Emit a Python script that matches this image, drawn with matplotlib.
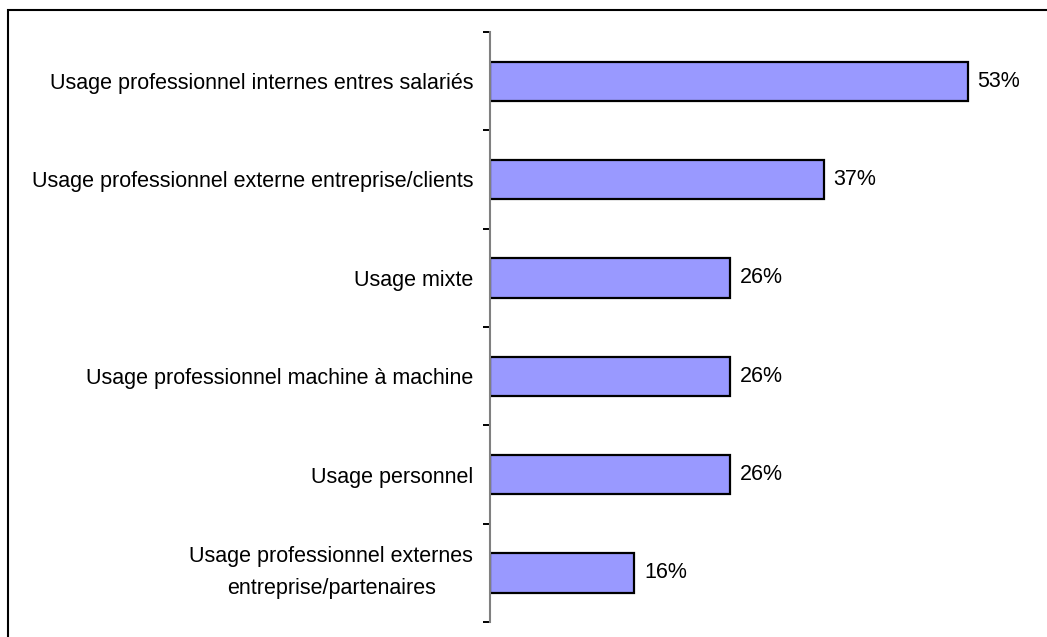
"""
Usage bar chart (horizontal), recreated with matplotlib
"""

import matplotlib.pyplot as plt
from matplotlib.patches import Rectangle

plt.rcParams['font.family'] = ['Liberation Sans', 'DejaVu Sans']

# Data (top to bottom)
categories = [
    "Usage professionnel internes entres salariés",
    "Usage professionnel externe entreprise/clients",
    "Usage mixte",
    "Usage professionnel machine à machine",
    "Usage personnel",
    "Usage professionnel externes\nentreprise/partenaires",
]
bar_values = [53, 37, 26.6, 26.6, 26.6, 16]
value_labels = ["53%", "37%", "26%", "26%", "26%", "16%"]

W, H = 1047, 637
FS = 15.5
fig = plt.figure(figsize=(W / 100, H / 100), dpi=100)

# outer frame, only left and top edges visible in the picture
fig.add_artist(Rectangle((8 / W, -0.1), 1.2, 1 - 10 / H + 0.1, transform=fig.transFigure,
                         fill=False, edgecolor='black', linewidth=1.5))

ax = fig.add_axes([490 / W, 1 - 622 / H, (1031 - 490) / W, (622 - 32) / H])

ypos = list(range(len(categories)))[::-1]
ax.barh(ypos, bar_values, height=0.4, color='#9999FF', edgecolor='black', linewidth=1.6)

for y, v, lab in zip(ypos, bar_values, value_labels):
    ax.annotate(lab, (v, y), xytext=(7, 0), textcoords='offset points',
                va='center', ha='left', fontsize=FS)

ax.set_xlim(0, 60)
ax.set_ylim(-0.5, len(categories) - 0.5)

ax.set_yticks(ypos)
ax.set_yticklabels(categories, fontsize=FS)
ax.tick_params(axis='y', which='major', length=0, pad=12)

ax.set_yticks([i - 0.5 for i in range(len(categories) + 1)], minor=True)
ax.tick_params(axis='y', which='minor', length=5, width=1.4, color='black', direction='out')

ax.set_xticks([])
for side in ['top', 'right', 'bottom']:
    ax.spines[side].set_visible(False)
ax.spines['left'].set_color('#808080')
ax.spines['left'].set_linewidth(1.5)

# multi-line label centred like the original
last = ax.get_yticklabels()[-1]
last.set_multialignment('center')
last.set_linespacing(1.7)
last.set_verticalalignment('center')

plt.savefig('out.png', dpi=100)
